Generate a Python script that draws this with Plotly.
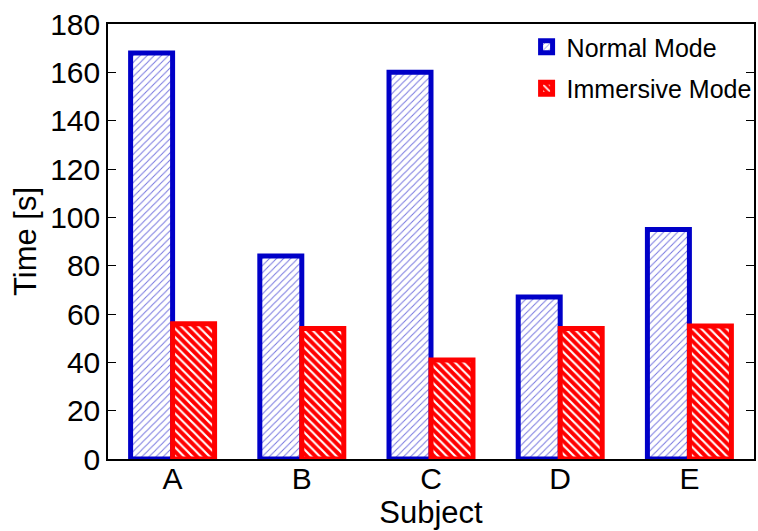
import plotly.graph_objects as go

subjects = ["A", "B", "C", "D", "E"]
normal_mode = [168, 84, 160, 67, 95]
immersive_mode = [56, 54, 41, 54, 55]
y_ticks = [0, 20, 40, 60, 80, 100, 120, 140, 160, 180]

FONT = "Liberation Sans, Arial, sans-serif"

fig = go.Figure()
fig.add_trace(go.Bar(
    x=subjects, y=normal_mode, name="Normal Mode", legendgroup="normal",
    marker=dict(
        color="white",
        line=dict(color="#0000c8", width=5),
        pattern=dict(shape="/", fgcolor="#3c3cd2", fgopacity=0.7,
                     bgcolor="white", size=5, solidity=0.2, fillmode="overlay"),
    ),
    cliponaxis=False,
))
fig.add_trace(go.Bar(
    x=subjects, y=immersive_mode, name="Immersive Mode", legendgroup="immersive",
    marker=dict(
        color="#ff0000",
        line=dict(color="#ff0000", width=5),
        pattern=dict(shape="\\", fgcolor="white", fgopacity=1,
                     bgcolor="#ff0000", size=6, solidity=0.35, fillmode="overlay"),
    ),
    cliponaxis=False,
))

fig.update_layout(
    width=758, height=531,
    margin=dict(l=108, r=4, t=24, b=72, autoexpand=False),
    paper_bgcolor="white", plot_bgcolor="white",
    barmode="group", bargap=0.35, bargroupgap=0,
    font=dict(family=FONT, color="black"),
    showlegend=True,
    legend=dict(x=1.004, y=1.0, xanchor="right", yanchor="top",
                bgcolor="rgba(0,0,0,0)", font=dict(size=25, family=FONT),
                traceorder="grouped", tracegroupgap=6),
    xaxis=dict(
        title=dict(text="Subject", font=dict(size=31), standoff=8),
        tickfont=dict(size=30), ticklabelstandoff=-8,
        showline=True, linecolor="black", linewidth=1.5,
        mirror="ticks", ticks="", showgrid=False, layer="below traces",
    ),
    yaxis=dict(
        title=dict(text="Time [s]", font=dict(size=31), standoff=4),
        range=[0, 180], tickvals=y_ticks, tickfont=dict(size=30),
        showline=True, linecolor="black", linewidth=1.5, mirror="ticks",
        ticks="inside", ticklen=8, tickwidth=1.2, tickcolor="black",
        showgrid=False, zeroline=False, layer="below traces",
    ),
)

fig.write_html("out.html")
